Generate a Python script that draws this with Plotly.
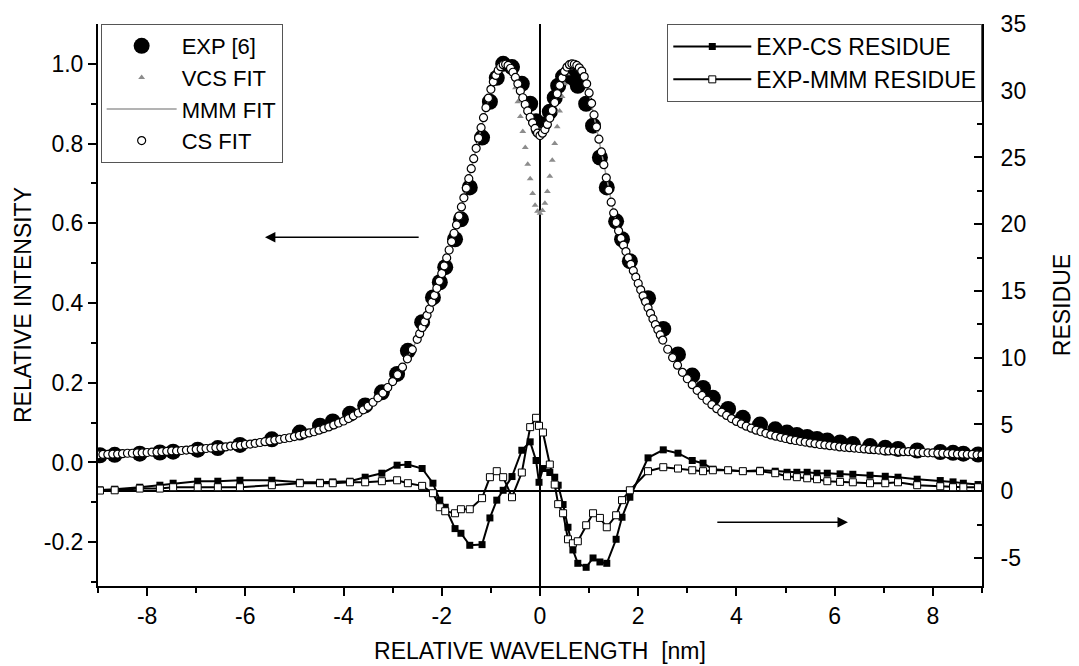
import numpy as np
import plotly.graph_objects as go

FONT = "Liberation Sans, Arial, Helvetica, sans-serif"

# ---------------- experimental points and residues (common wavelength grid, nm) ----------------
exp_x = [-8.96, -8.66, -8.15, -7.74, -7.47, -6.97, -6.56, -6.11, -5.46, -4.89,
         -4.48, -4.22, -3.87, -3.56, -3.22, -2.91, -2.69, -2.40, -2.18, -2.04,
         -1.93, -1.73, -1.61, -1.43, -1.18, -1.02, -0.88, -0.75, -0.57, -0.37,
         -0.20, -0.08, -0.02, 0.06, 0.20, 0.30, 0.37, 0.47, 0.57, 0.67,
         0.77, 0.94, 1.08, 1.22, 1.36, 1.55, 1.67, 1.83, 2.20, 2.51,
         2.81, 3.10, 3.32, 3.52, 3.83, 4.13, 4.48, 4.79, 5.03, 5.23,
         5.44, 5.64, 5.85, 6.11, 6.37, 6.72, 7.03, 7.29, 7.68, 8.15,
         8.41, 8.62, 8.92]

exp_y = [.018, .019, .022, .025, .027, .032, .036, .044, .058, .075,
         .092, .103, .122, .143, .176, .222, .280, .352, .414, .452,
         .490, .560, .610, .690, .815, .905, .965, 1.000, .992, .950,
         .900, .856, .835, .848, .880, .915, .945, .968, .978, .965,
         .945, .900, .845, .765, .690, .605, .560, .505, .412, .335,
         .271, .218, .187, .162, .134, .112, .095, .083, .075, .069,
         .064, .059, .055, .050, .046, .041, .037, .034, .030, .026,
         .024, .022, .020]

res_cs = [0.10, 0.15, 0.30, 0.45, 0.60, 0.75, 0.75, 0.82, 0.82, 0.67,
          0.67, 0.70, 0.75, 1.05, 1.35, 1.95, 2.00, 1.70, 0.60, -0.67,
          -1.20, -2.80, -3.15, -4.05, -4.00, -2.00, -0.67, 0.07, 1.10, 3.07,
          3.70, 2.30, 0.67, 1.70, 1.40, 1.05, 0.45, -1.00, -2.70, -4.40,
          -5.40, -5.70, -5.00, -5.30, -5.40, -3.60, -1.95, -0.45, 2.50, 3.10,
          2.85, 2.30, 2.10, 1.65, 1.57, 1.50, 1.57, 1.50, 1.42, 1.42,
          1.42, 1.35, 1.35, 1.30, 1.27, 1.20, 1.12, 1.05, 0.90, 0.80,
          0.70, 0.60, 0.50]

res_mmm = [0.05, 0.07, 0.20, 0.20, 0.30, 0.30, 0.30, 0.30, 0.45, 0.60,
           0.60, 0.60, 0.67, 0.67, 0.75, 0.82, 0.60, 0.40, -0.15, -1.20,
           -1.50, -1.65, -1.35, -1.35, -0.52, 1.05, 1.50, 1.05, -0.45, 1.40,
           4.80, 5.50, 4.90, 4.40, 2.00, 0.50, -0.97, -1.65, -3.60, -3.90,
           -3.75, -2.55, -1.65, -2.00, -2.70, -1.80, -0.67, 0.07, 1.50, 1.80,
           1.70, 1.57, 1.50, 1.57, 1.57, 1.50, 1.50, 1.35, 1.12, 1.05,
           0.97, 0.90, 0.75, 0.70, 0.67, 0.60, 0.60, 0.67, 0.45, 0.37,
           0.30, 0.30, 0.30]

# ---------------- CS fit (sampled: 0.1 nm in wings, 0.05 nm in the centre) ----------------
cs_wing_left = [.019, .020, .020, .021, .021, .022, .023, .023, .024, .024,   # -9.0 .. -8.1
                .025, .026, .026, .027, .028, .029, .029, .030, .031, .032,   # -8.0 .. -7.1
                .033, .034, .035, .036, .037, .038, .039, .041, .042, .043,   # -7.0 .. -6.1
                .045, .046, .048, .050, .052, .054, .056, .058, .060, .062,   # -6.0 .. -5.1
                .065, .068, .071, .074, .077, .081, .085, .089, .094, .099,   # -5.0 .. -4.1
                .104, .110, .117, .124, .132, .141, .151, .162, .174, .188,   # -4.0 .. -3.1
                .203, .220, .239, .260, .283]                                 # -3.0 .. -2.6

cs_center = [.309, .323, .338, .353, .369, .385, .402, .419, .437, .455,      # -2.50 .. -2.05
             .474, .493, .513, .533, .554, .575, .596, .618, .641, .664,      # -2.00 .. -1.55
             .688, .712, .737, .762, .788, .814, .840, .865, .890, .914,      # -1.50 .. -1.05
             .936, .955, .971, .984, .993, .998, .999, .996, .989, .979,      # -1.00 .. -0.55
             .966, .950, .932, .915, .898, .882, .866, .852, .838, .826,      # -0.50 .. -0.05
             .820,                                                            #  0.00
             .826, .835, .848, .864, .883, .903, .925, .946, .965, .981,      #  0.05 .. 0.50
             .992, .998, 1.000, .999, .996, .990, .982, .968, .950, .927,     #  0.55 .. 1.00
             .901, .872, .842, .811, .779, .747, .714, .683, .653, .626,      #  1.05 .. 1.50
             .602, .581, .562, .545, .529, .513, .497, .481, .465, .449,      #  1.55 .. 2.00
             .433, .418, .403, .388, .374, .360, .346, .333, .320, .307]      #  2.05 .. 2.50

cs_wing_right = [.284, .263, .244, .226, .210, .195, .181, .168, .156, .145,  # 2.6 .. 3.5
                 .135, .126, .118, .110, .103, .097, .091, .086, .081, .077,  # 3.6 .. 4.5
                 .073, .069, .066, .063, .060, .057, .055, .053, .051, .049,  # 4.6 .. 5.5
                 .047, .045, .044, .042, .041, .039, .038, .037, .036, .035,  # 5.6 .. 6.5
                 .034, .033, .032, .031, .030, .029, .029, .028, .027, .027,  # 6.6 .. 7.5
                 .026, .025, .025, .024, .024, .023, .023, .022, .022, .021,  # 7.6 .. 8.5
                 .021, .020, .020, .019, .019]                                # 8.6 .. 9.0

# VCS fit: deeper central dip (-0.60 .. 0.60, 0.05 nm), coincides with CS elsewhere
vcs_mid = [.985, .968, .940, .905, .868, .830, .790, .748, .712, .675, .645, .630,
           .625,
           .632, .650, .680, .718, .758, .800, .842, .882, .918, .950, .975, .990]

# MMM fit (line)
mmm_x = [-9, -8, -7, -6, -5, -4.5, -4, -3.5, -3, -2.75, -2.5, -2.25, -2, -1.75, -1.5, -1.25,
         -1, -0.875, -0.75, -0.625, -0.5, -0.375, -0.25, -0.125, 0, 0.125, 0.25, 0.375, 0.5,
         0.625, 0.75, 0.875, 1, 1.25, 1.5, 1.75, 2, 2.25, 2.5, 2.75, 3, 3.5, 4, 4.5, 5, 6, 7, 8, 9]
mmm_y = [.019, .025, .033, .045, .065, .081, .104, .141, .203, .249, .309, .385, .474, .575, .688, .814,
         .936, .978, .998, .994, .966, .925, .885, .852, .835, .850, .886, .930, .978,
         .998, .996, .976, .927, .779, .626, .532, .449, .374, .307, .253, .210, .145, .103, .077, .060,
         .041, .030, .024, .019]

# tick labels
x_ticks = [-8, -6, -4, -2, 0, 2, 4, 6, 8]
x_ticktext = ["-8", "-6", "-4", "-2", "0", "2", "4", "6", "8"]
x_minor = [-9, -7, -5, -3, -1, 1, 3, 5, 7, 9]
y_ticks = [-0.2, 0.0, 0.2, 0.4, 0.6, 0.8, 1.0]
y_ticktext = ["-0.2", "0.0", "0.2", "0.4", "0.6", "0.8", "1.0"]
y_minor = [-0.3, -0.1, 0.1, 0.3, 0.5, 0.7, 0.9]
y2_ticks = [-5, 0, 5, 10, 15, 20, 25, 30, 35]
y2_ticktext = ["-5", "0", "5", "10", "15", "20", "25", "30", "35"]
y2_minor = [-2.5, 2.5, 7.5, 12.5, 17.5, 22.5, 27.5, 32.5]

# sampling grid of the fits
fit_x = np.concatenate([np.linspace(-9.0, -2.6, 65), np.linspace(-2.5, 2.5, 101), np.linspace(2.6, 9.0, 65)])
cs_y = cs_wing_left + cs_center + cs_wing_right
vcs_y = cs_wing_left + cs_center[:38] + vcs_mid + cs_center[63:] + cs_wing_right
assert len(fit_x) == len(cs_y) == len(vcs_y)
assert len(exp_x) == len(exp_y) == len(res_cs) == len(res_mmm)
assert len(mmm_x) == len(mmm_y)

fig = go.Figure()
fig.add_trace(go.Scatter(x=exp_x, y=exp_y, mode="markers", name="EXP [6]",
                         marker=dict(symbol="circle", size=16, color="black"), legend="legend"))
fig.add_trace(go.Scatter(x=fit_x, y=vcs_y, mode="markers", name="VCS FIT",
                         marker=dict(symbol="triangle-up", size=6, color="#8c8c8c"), legend="legend"))
fig.add_trace(go.Scatter(x=mmm_x, y=mmm_y, mode="lines", name="MMM FIT",
                         line=dict(color="#9a9a9a", width=1.5), legend="legend"))
fig.add_trace(go.Scatter(x=fit_x, y=cs_y, mode="markers", name="CS FIT",
                         marker=dict(symbol="circle", size=8, color="white",
                                     line=dict(color="black", width=1.2)), legend="legend"))
fig.add_trace(go.Scatter(x=exp_x, y=res_cs, mode="lines+markers", name="EXP-CS RESIDUE", yaxis="y2",
                         line=dict(color="black", width=2),
                         marker=dict(symbol="square", size=7, color="black"), legend="legend2"))
fig.add_trace(go.Scatter(x=exp_x, y=res_mmm, mode="lines+markers", name="EXP-MMM RESIDUE", yaxis="y2",
                         line=dict(color="black", width=2),
                         marker=dict(symbol="square", size=7, color="white",
                                     line=dict(color="black", width=1)), legend="legend2"))

axis_common = dict(showgrid=False, linecolor="black", linewidth=2, tickcolor="black",
                   tickwidth=1.5, automargin=False,
                   tickfont=dict(size=23, family=FONT, color="black"))

fig.update_layout(
    width=1079, height=666,
    margin=dict(l=98, r=97, t=24, b=80),
    paper_bgcolor="white", plot_bgcolor="white",
    font=dict(family=FONT, size=23, color="black"),
    xaxis=dict(range=[-9, 9], tickmode="array", tickvals=x_ticks, ticktext=x_ticktext,
               ticks="outside", ticklen=8, showline=True,
               zeroline=True, zerolinecolor="black", zerolinewidth=2,
               minor=dict(tickmode="array", tickvals=x_minor, ticks="outside", ticklen=5,
                          tickcolor="black", tickwidth=1.5),
               title=dict(text="RELATIVE WAVELENGTH\u00a0 [nm]", font=dict(size=23)),
               **axis_common),
    xaxis2=dict(range=[-9, 9], overlaying="x", side="top", anchor="y", tickmode="array",
                tickvals=x_ticks, ticks="inside", ticklen=8, showticklabels=False,
                showline=True, zeroline=False,
                minor=dict(tickmode="array", tickvals=x_minor, ticks="inside", ticklen=5,
                           tickcolor="black", tickwidth=1.5),
                **axis_common),
    yaxis=dict(range=[-0.31, 1.1], tickmode="array", tickvals=y_ticks, ticktext=y_ticktext,
               ticks="outside", ticklen=8, showline=True, zeroline=False,
               minor=dict(tickmode="array", tickvals=y_minor, ticks="outside", ticklen=5,
                          tickcolor="black", tickwidth=1.5),
               title=dict(text="RELATIVE INTENSITY", font=dict(size=23), standoff=6),
               **axis_common),
    yaxis2=dict(range=[-7.1, 35], overlaying="y", side="right", anchor="x", tickmode="array",
                tickvals=y2_ticks, ticktext=y2_ticktext, ticks="inside", ticklen=8,
                ticklabelstandoff=12,
                showline=True, zeroline=True, zerolinecolor="black", zerolinewidth=2,
                minor=dict(tickmode="array", tickvals=y2_minor, ticks="inside", ticklen=5,
                           tickcolor="black", tickwidth=1.5),
                title=dict(text="RESIDUE", font=dict(size=23), standoff=29),
                **axis_common),
    legend=dict(x=0.003, y=1, xanchor="left", yanchor="top", bgcolor="white",
                bordercolor="#555555", borderwidth=1, itemwidth=70,
                font=dict(size=22, family=FONT, color="black")),
    legend2=dict(x=0.644, y=1, xanchor="left", yanchor="top", bgcolor="white",
                 bordercolor="#555555", borderwidth=1, itemwidth=78,
                 font=dict(size=23, family=FONT, color="black")),
    annotations=[
        dict(x=-5.6, y=0.565, ax=-2.44, ay=0.565, xref="x", yref="y", axref="x", ayref="y",
             showarrow=True, arrowhead=2, arrowsize=1.3, arrowwidth=1.6, arrowcolor="black", text=""),
        dict(x=6.27, y=-0.15, ax=3.58, ay=-0.15, xref="x", yref="y", axref="x", ayref="y",
             showarrow=True, arrowhead=2, arrowsize=1.3, arrowwidth=1.6, arrowcolor="black", text=""),
    ],
)

fig.write_html("out.html")
